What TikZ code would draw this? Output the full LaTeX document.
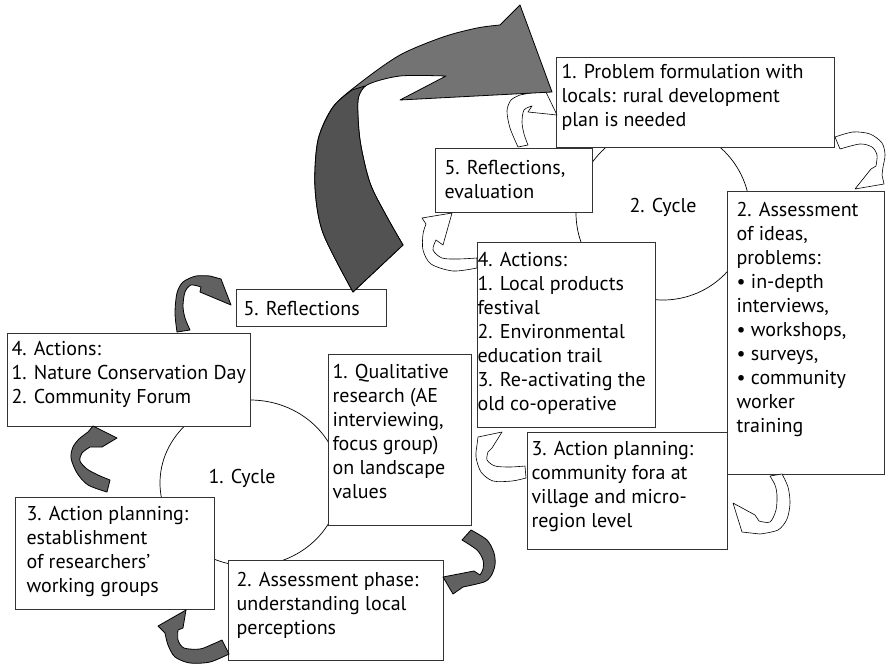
\documentclass[tikz,border=0pt]{standalone}
\usepackage{fontspec}
\newfontfamily\stagefont{PT Sans}
\usepackage{tikz}
\usetikzlibrary{calc,positioning}
\newcommand{\stagetext}[5]{\parbox[t][#4][t]{#3}{\raggedright\setlength{\leftskip}{#1}\vspace*{#2}\strut#5}}

\begin{document}
\begin{tikzpicture}[x=1pt,y=-1pt,
    stage/.style={draw=black!80, line width=1.1pt, fill=white, anchor=north west, inner sep=0pt,
      font=\stagefont\fontsize{20}{24}\selectfont},
    cyclabel/.style={font=\stagefont\fontsize{20}{24}\selectfont, inner sep=0pt},
    cyc/.style={draw=black, line width=0.7pt},
    darrow/.style={fill=black!62, draw=black, line width=0.8pt, line join=round},
    warrow/.style={fill=white, draw=black, line width=0.6pt, line join=round}]
  \useasboundingbox (0,0) rectangle (890,666);

  % the two cycles
  \draw[cyc] (250,483) ellipse [x radius=90, y radius=83];
  \draw[cyc] (663,213) circle [radius=87];
  \node[cyclabel] (cyc1) at (242,478) {1. Cycle};
  \node[cyclabel] (cyc2) at (663,207) {2. Cycle};

  % first cycle
  \node[stage] (qual1) at (328,354) {\stagetext{4pt}{7pt}{143pt}{171pt}{1. Qualitative\\research (AE\\interviewing,\\focus group)\\on landscape\\values}};
  \node[stage] (assess1) at (228,560) {\stagetext{8pt}{9pt}{215pt}{100pt}{2. Assessment phase:\\understanding local\\perceptions}};
  \node[stage] (plan1) at (15,497) {\stagetext{11pt}{6pt}{199pt}{112pt}{3. Action planning:\\establishment\\of researchers’\\working groups}};
  \node[stage] (act1) at (7,333) {\stagetext{4pt}{5pt}{243pt}{93pt}{4. Actions:\\1. Nature Conservation Day\\2. Community Forum}};
  \node[stage] (refl1) at (236,289) {\stagetext{7pt}{9pt}{150pt}{37pt}{5. Reflections}};

  % second cycle
  \node[stage] (prob2) at (556,57) {\stagetext{5pt}{4pt}{278pt}{90pt}{1. Problem formulation with\\locals: rural development\\plan is needed}};
  \node[stage] (refl2) at (435,148) {\stagetext{9pt}{9pt}{157pt}{64pt}{5. Reflections,\\evaluation}};
  \node[stage] (assess2) at (727,191) {\stagetext{9pt}{8pt}{157pt}{283pt}{2. Assessment\\of ideas,\\problems:\\\textbullet{} in-depth\\interviews,\\\textbullet{} workshops,\\\textbullet{} surveys,\\\textbullet{} community\\worker\\training}};
  \node[stage] (act2) at (477,242) {\stagetext{0pt}{7pt}{178pt}{185pt}{4. Actions:\\1. Local products\\festival\\2. Environmental\\education trail\\3. Re-activating the\\old co-operative}};
  \node[stage] (plan2) at (527,432) {\stagetext{4pt}{6pt}{200pt}{117pt}{3. Action planning:\\community fora at\\village and micro-\\region level}};

  % dark arrows, first cycle
  \filldraw[darrow] plot[smooth] coordinates {(462,540) (477,550) (483,560) (483,569) (480,575)}
    -- (474,571) -- (443,577) -- (453,594) -- (463,587)
    -- plot[smooth] coordinates {(463,587) (484,582) (491,576) (495,565) (494,553) (487,540) (471,530)} -- cycle;
  \filldraw[darrow] plot[smooth] coordinates {(229,654) (210,662) (190,663) (175,657) (168,645) (165,633)}
    -- (158,626) -- (186,610) -- (183,628) -- (178,630)
    -- plot[smooth] coordinates {(178,630) (178,640) (184,648) (200,649) (213,644) (222,640)} -- cycle;
  \filldraw[darrow] plot[smooth] coordinates {(107,492) (88,485) (77,473) (71,458) (73,447) (79,439) (88,432)}
    -- (93,426) -- (117,438) -- (102,447) -- (90,447)
    -- plot[smooth] coordinates {(90,447) (82,453) (80,461) (87,469) (98,475) (110,480)} -- cycle;
  \filldraw[darrow] plot[smooth] coordinates {(177,332) (175,313) (177,293) (183,282) (196,276) (210,276)}
    -- (221,279) -- (231,305) -- (200,292) -- (201,287)
    -- plot[smooth] coordinates {(201,287) (191,285) (185,292) (183,306) (185,318) (190,330)} -- cycle;

  % white arrows, second cycle
  \filldraw[warrow] plot[smooth] coordinates {(518,147) (510,128) (507,111) (511,100) (520,95)}
    -- (545,90) -- (557,115) -- (528,112) -- (532,106)
    -- plot[smooth] coordinates {(532,106) (524,110) (522,122) (524,134) (528,145)} -- cycle;
  \filldraw[warrow] plot[smooth] coordinates {(835,137) (853,132) (870,134) (882,143) (885,155) (883,167) (882,175)}
    -- (884,184) -- (855,189) -- (871,169) -- (876,166)
    -- plot[smooth] coordinates {(876,166) (877,155) (872,147) (860,144) (840,149)} -- cycle;
  \filldraw[warrow] plot[smooth] coordinates {(782,474) (788,487) (790,503) (787,519) (778,530) (760,534)}
    -- (742,532) -- (733,503) -- (755,515) -- (759,521)
    -- plot[smooth] coordinates {(759,521) (770,522) (776,510) (777,495) (775,485) (770,476)} -- cycle;
  \filldraw[warrow] plot[smooth] coordinates {(526,478) (512,481) (493,481) (481,472) (476,457) (477,445)}
    -- (478,437) -- (502,432) -- (492,448) -- (488,452)
    -- plot[smooth] coordinates {(488,452) (487,460) (495,466) (510,467) (525,466)} -- cycle;
  \filldraw[warrow] plot[smooth] coordinates {(477,268) (453,271) (431,264) (423,250) (423,234) (426,224)}
    -- (422,218) -- (452,213) -- (443,245) -- (436,240)
    -- plot[smooth] coordinates {(436,240) (433,250) (442,258) (458,259) (477,258)} -- cycle;

  % big arrow from the first cycle to the second (twisted ribbon: lighter upper part)
  \filldraw[darrow, fill=black!55] plot[smooth] coordinates {(353,292) (323,233) (315,187) (318,140) (333,107) (360,83) (400,55) (443,37) (477,28) (500,25)}
    -- (520,5) -- (552,92) -- (400,100) -- (446,76)
    -- plot[smooth] coordinates {(446,76) (400,76) (367,85) (358,100) (360,140) (370,183) (387,217) (403,245)} -- cycle;
  \filldraw[darrow, fill=black!68] plot[smooth] coordinates {(353,292) (323,233) (315,187) (318,140) (333,107) (352,90)}
    -- (365,86)
    -- plot[smooth] coordinates {(365,86) (358,100) (360,140) (370,183) (387,217) (403,245)} -- cycle;
\end{tikzpicture}
\end{document}
